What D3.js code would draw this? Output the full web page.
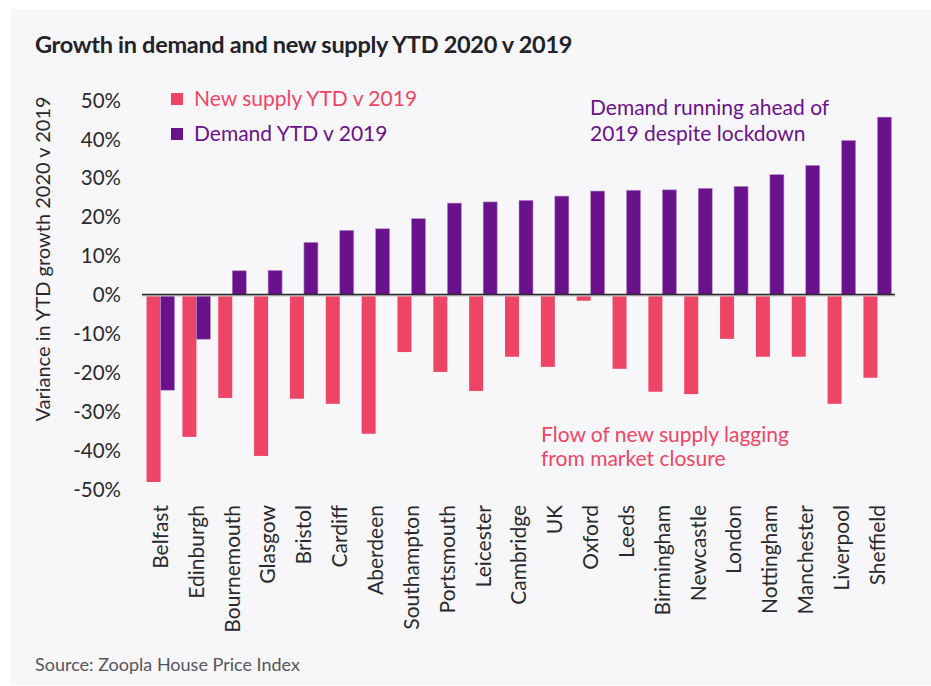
<!DOCTYPE html>
<html>
<head>
<meta charset="utf-8">
<script src="https://cdn.jsdelivr.net/npm/d3@7"></script>
<style>
  body { margin: 0; background: #fff; }
  text { font-family: Lato, 'Open Sans', sans-serif; }
</style>
</head>
<body>
<div id="chart"></div>
<script>
// data
const cities = ['Belfast', 'Edinburgh', 'Bournemouth', 'Glasgow', 'Bristol', 'Cardiff', 'Aberdeen',
  'Southampton', 'Portsmouth', 'Leicester', 'Cambridge', 'UK', 'Oxford', 'Leeds', 'Birmingham',
  'Newcastle', 'London', 'Nottingham', 'Manchester', 'Liverpool', 'Sheffield']
const supply = [-48.2, -36.6, -26.6, -41.5, -26.8, -28.1, -35.8,
  -14.8, -19.9, -24.8, -16.0, -18.6, -1.6, -19.1, -25.0,
  -25.6, -11.4, -16.0, -16.0, -28.1, -21.4]
const demand = [-24.6, -11.5, 6.1, 6.2, 13.4, 16.5, 16.9,
  19.5, 23.5, 23.8, 24.2, 25.3, 26.6, 26.8, 26.9,
  27.3, 27.8, 30.8, 33.2, 39.6, 45.6]
const yTicks = [50, 40, 30, 20, 10, 0, -10, -20, -30, -40, -50]
const seriesNames = ['New supply YTD v 2019', 'Demand YTD v 2019']

const W = 931, H = 686
const pink = '#ee4566', purple = '#6a128b'

const svg = d3.select('#chart').append('svg').attr('width', W).attr('height', H)

svg.append('rect').attr('x', 11).attr('y', 9).attr('width', W - 11).attr('height', H - 10)
  .attr('fill', '#f7f7f9')

// title
svg.append('text').text('Growth in demand and new supply YTD 2020 v 2019')
  .attr('x', 35).attr('y', 53).attr('font-size', '23.5px').attr('font-weight', 'bold')
  .attr('fill', '#222228').style('letter-spacing', '-0.3px')

const x = d3.scaleBand().domain(cities).range([143, 895]).paddingInner(0.22).paddingOuter(0.1)
const y = d3.scaleLinear().domain([-50, 50]).range([489, 100])

const g = svg.append('g')

// bars
const bw = 14
g.selectAll('.supply').data(cities).enter().append('rect').classed('supply', true)
  .attr('x', (d, i) => x(d) + x.bandwidth() / 2 - bw)
  .attr('width', bw)
  .attr('y', (d, i) => y(Math.max(0, supply[i])))
  .attr('height', (d, i) => Math.abs(y(supply[i]) - y(0)))
  .attr('fill', pink)

g.selectAll('.demand').data(cities).enter().append('rect').classed('demand', true)
  .attr('x', d => x(d) + x.bandwidth() / 2)
  .attr('width', bw)
  .attr('y', (d, i) => y(Math.max(0, demand[i])))
  .attr('height', (d, i) => Math.abs(y(demand[i]) - y(0)))
  .attr('fill', purple).attr('stroke', '#b58fc9').attr('stroke-width', 0.6)

// zero line
g.append('line').attr('x1', 142).attr('x2', 895).attr('y1', y(0) + 1).attr('y2', y(0) + 1)
  .attr('stroke', '#c8c8cc').attr('stroke-width', 2)
g.append('line').attr('x1', 142).attr('x2', 895).attr('y1', y(0)).attr('y2', y(0))
  .attr('stroke', '#2a2a2e').attr('stroke-width', 1.3)

// y axis
const yAxis = d3.axisLeft(y).tickValues(yTicks).tickSize(0).tickPadding(0).tickFormat(d => d + '%')
const ya = svg.append('g').attr('transform', 'translate(121,0)').call(yAxis)
ya.select('.domain').remove()
ya.selectAll('text').attr('font-size', '20.5px').attr('fill', '#2a2a2e')
  .attr('font-family', 'Lato, sans-serif').attr('dy', '0.35em')

svg.append('text').text('Variance in YTD growth 2020 v 2019')
  .attr('transform', 'translate(50,259) rotate(-90)').attr('text-anchor', 'middle')
  .attr('font-size', '20px').attr('fill', '#2a2a2e')

// x axis labels
const xAxis = d3.axisBottom(x).tickSize(0).tickPadding(0)
const xa = svg.append('g').attr('transform', 'translate(0,505)').call(xAxis)
xa.select('.domain').remove()
xa.selectAll('text').attr('font-size', '21px').attr('fill', '#2a2a2e')
  .attr('font-family', 'Lato, sans-serif')
  .attr('text-anchor', 'end').attr('transform', 'rotate(-90)')
  .attr('x', 0).attr('y', 0).attr('dy', '0.35em')

// legend
const legend = svg.append('g')
seriesNames.forEach((name, i) => {
  const c = i === 0 ? pink : purple
  legend.append('rect').attr('x', 171).attr('y', 93 + i * 35).attr('width', 12).attr('height', 12).attr('fill', c)
  legend.append('text').text(name).attr('x', 194).attr('y', 106 + i * 35)
    .attr('font-size', '21px').attr('fill', c)
})

// annotations
const ann1 = svg.append('text').attr('font-size', '21px').attr('fill', purple)
ann1.append('tspan').text('Demand running ahead of').attr('x', 590).attr('y', 115)
ann1.append('tspan').text('2019 despite lockdown').attr('x', 590).attr('y', 140.5)

const ann2 = svg.append('text').attr('font-size', '21px').attr('fill', pink)
ann2.append('tspan').text('Flow of new supply lagging').attr('x', 541).attr('y', 442)
ann2.append('tspan').text('from market closure').attr('x', 541).attr('y', 466)

// source
svg.append('text').text('Source: Zoopla House Price Index')
  .attr('x', 35).attr('y', 671).attr('font-size', '18px').attr('fill', '#55555d')
</script>
</body>
</html>
